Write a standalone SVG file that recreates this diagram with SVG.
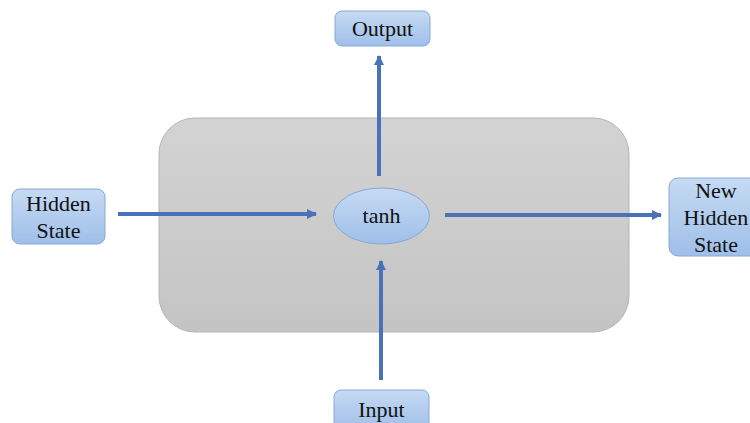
<svg xmlns="http://www.w3.org/2000/svg" width="750" height="423" viewBox="0 0 750 423">
  <defs>
    <linearGradient id="boxFill" x1="0" y1="0" x2="0" y2="1">
      <stop offset="0" stop-color="#c6daf3"/>
      <stop offset="1" stop-color="#9fbfe9"/>
    </linearGradient>
    <linearGradient id="cellFill" x1="0" y1="0" x2="0" y2="1">
      <stop offset="0" stop-color="#d3d3d3"/>
      <stop offset="1" stop-color="#c4c4c4"/>
    </linearGradient>
    <marker id="arrow" viewBox="0 0 10 10" refX="9" refY="5" markerWidth="2.6" markerHeight="2.6" orient="auto" markerUnits="strokeWidth">
      <path d="M0,0 L10,5 L0,10 Z" fill="#4a72b8"/>
    </marker>
  </defs>
  <style>
    .box { fill: url(#boxFill); stroke: #86a8d6; stroke-width: 1; }
    .label { font-family: "Liberation Serif", "Times New Roman", serif; font-size: 22px; fill: #111; text-anchor: middle; }
    .conn { stroke: #4a72b8; stroke-width: 4; fill: none; marker-end: url(#arrow); }
  </style>
  <rect width="750" height="423" fill="#ffffff"/>

  <!-- RNN cell body -->
  <g id="cell">
    <rect x="159" y="118" width="470" height="214" rx="36" ry="36" fill="url(#cellFill)" stroke="#b5b5b5" stroke-width="1"/>
  </g>

  <g id="connectors">
    <line class="conn" x1="118" y1="214" x2="316" y2="214"/>
    <line class="conn" x1="445" y1="215" x2="661" y2="215"/>
    <line class="conn" x1="379" y1="176" x2="379" y2="56"/>
    <line class="conn" x1="381" y1="380" x2="381" y2="261"/>
  </g>

  <g id="tanh">
    <ellipse cx="381.5" cy="216" rx="48" ry="28" class="box"/>
    <text class="label" x="381.5" y="223">tanh</text>
  </g>

  <g id="output">
    <rect class="box" x="335" y="11" width="95" height="35" rx="7"/>
    <text class="label" x="382.5" y="36">Output</text>
  </g>

  <g id="hidden-state">
    <rect class="box" x="12" y="189" width="93" height="55" rx="8"/>
    <text class="label" x="58.5" y="211">Hidden</text>
    <text class="label" x="58.5" y="238">State</text>
  </g>

  <g id="new-hidden-state">
    <rect class="box" x="669" y="178" width="95" height="78" rx="9"/>
    <text class="label" x="716" y="198">New</text>
    <text class="label" x="716" y="225">Hidden</text>
    <text class="label" x="716" y="252">State</text>
  </g>

  <g id="input">
    <rect class="box" x="334" y="390" width="95" height="40" rx="7"/>
    <text class="label" x="381.5" y="417">Input</text>
  </g>
</svg>
